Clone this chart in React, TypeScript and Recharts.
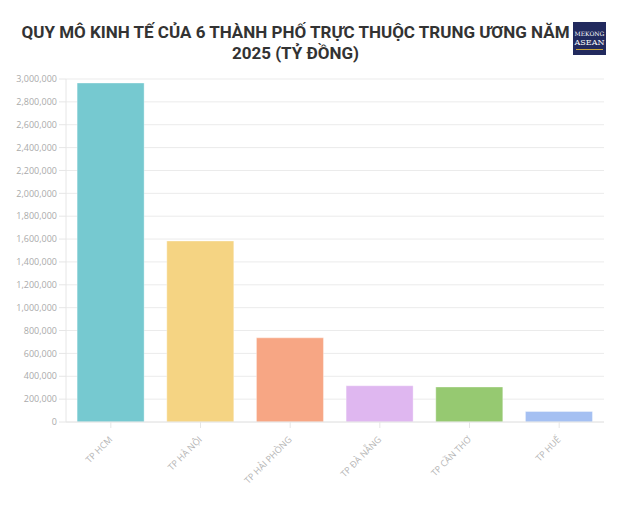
import React from 'react';
import { BarChart, Bar, XAxis, YAxis, CartesianGrid, Cell } from 'recharts';

const cities = ['TP HCM', 'TP HÀ NỘI', 'TP HẢI PHÒNG', 'TP ĐÀ NẴNG', 'TP CẦN THƠ', 'TP HUẾ'];
const grdp = [2965000, 1583000, 736000, 317000, 306000, 92000];
const barColors = ['#76C9D0', '#F5D483', '#F7A684', '#DFB7F0', '#96C971', '#A5C0F2'];
const yTicks = [
  0, 200000, 400000, 600000, 800000, 1000000, 1200000, 1400000, 1600000, 1800000, 2000000, 2200000,
  2400000, 2600000, 2800000, 3000000,
];

const data = cities.map((city, i) => ({ city, value: grdp[i] }));

const fmt = (v: number) => v.toLocaleString('en-US');

function XTick(props: any) {
  const { x, y, payload } = props;
  return (
    <g transform={`translate(${x},${y + 8})`}>
      <text
        textAnchor="end"
        transform="rotate(-45)"
        fontSize={9}
        fill="#b5b5b5"
        fontFamily="'Open Sans', sans-serif"
        dy={3}
      >
        {payload.value}
      </text>
    </g>
  );
}

export default function App() {
  return (
    <div
      style={{
        position: 'absolute',
        left: 0,
        top: 0,
        width: 639,
        height: 514,
        background: '#fff',
        fontFamily: "'Open Sans', sans-serif",
      }}
    >
      <div
        style={{
          position: 'absolute',
          left: 0,
          top: 22,
          width: 591,
          textAlign: 'center',
          fontFamily: 'Roboto, sans-serif',
          fontWeight: 700,
          fontSize: 17,
          lineHeight: '21px',
          color: '#333',
        }}
      >
        QUY MÔ KINH TẾ CỦA 6 THÀNH PHỐ TRỰC THUỘC TRUNG ƯƠNG NĂM
        <br />
        2025 (TỶ ĐỒNG)
      </div>
      <div
        style={{
          position: 'absolute',
          left: 573,
          top: 22,
          width: 33,
          height: 33,
          background: '#222a5e',
          color: '#fff',
          fontFamily: "'DejaVu Serif', serif",
          textAlign: 'center',
          lineHeight: '9px',
        }}
      >
        <div style={{ fontSize: 6, marginTop: 7 }}>MEKONG</div>
        <div style={{ fontSize: 8 }}>ASEAN</div>
        <div style={{ height: 1, background: '#c9a43a', margin: '2px 3px 0' }} />
      </div>
      <div style={{ position: 'absolute', left: 0, top: 0 }}>
        <BarChart
          width={639}
          height={514}
          data={data}
          margin={{ top: 79, right: 35, bottom: 32, left: 0 }}
          barCategoryGap="12.4%"
        >
          <CartesianGrid stroke="#ebebeb" vertical={false} />
          <XAxis
            dataKey="city"
            interval={0}
            height={60}
            tick={<XTick />}
            axisLine={{ stroke: '#e6e6e6' }}
            tickLine={{ stroke: '#e6e6e6' }}
            tickSize={6}
          />
          <YAxis
            width={66}
            domain={[0, 3000000]}
            ticks={yTicks}
            interval={0}
            tickFormatter={fmt}
            tick={{ fontSize: 9, fill: '#aaaaaa', fontFamily: "'Open Sans', sans-serif" }}
            axisLine={{ stroke: '#e6e6e6' }}
            tickLine={{ stroke: '#e6e6e6' }}
            tickSize={7}
          />
          <Bar dataKey="value" isAnimationActive={false}>
            {data.map((d, i) => (
              <Cell key={d.city} fill={barColors[i]} stroke="rgba(255,255,255,0.35)" strokeWidth={1} />
            ))}
          </Bar>
        </BarChart>
      </div>
    </div>
  );
}
